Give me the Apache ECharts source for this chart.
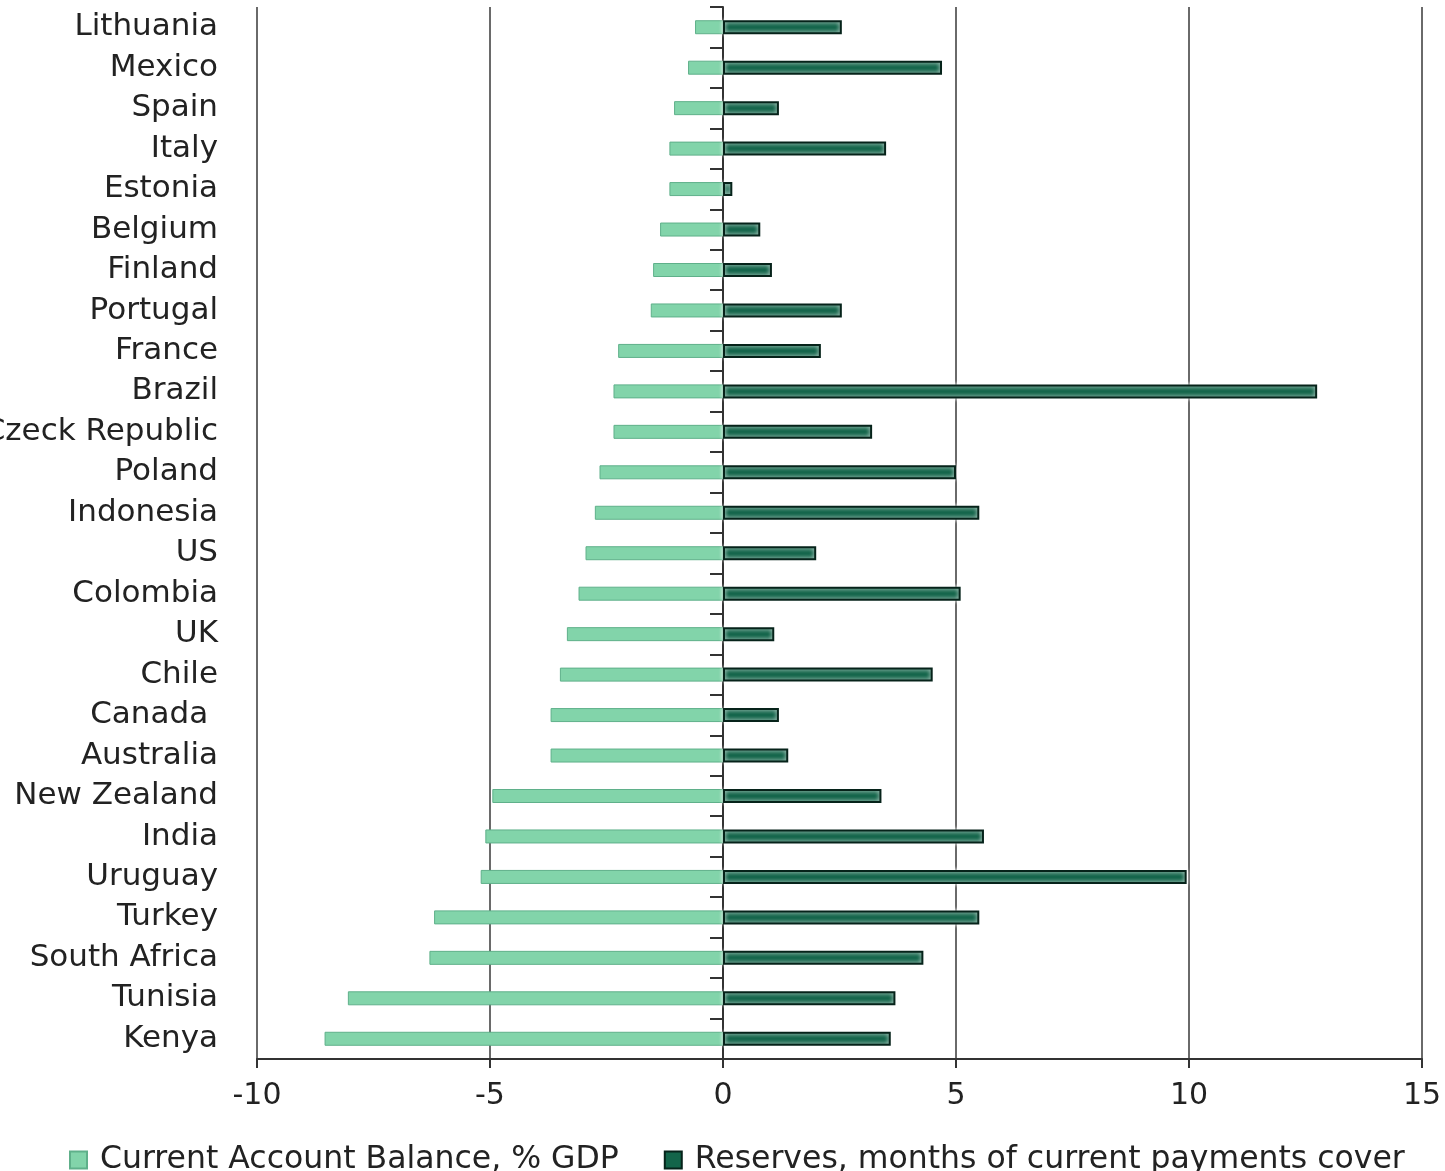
<!DOCTYPE html>
<html>
<head>
<meta charset="utf-8">
<script src="https://cdn.jsdelivr.net/npm/echarts@6/dist/echarts.min.js"></script>
<style>
html,body{margin:0;padding:0;background:#fff;}
#chart{width:1445px;height:1171px;}
</style>
</head>
<body>
<div id="chart"></div>
<script>
const categories = ['Lithuania','Mexico','Spain','Italy','Estonia','Belgium','Finland','Portugal','France','Brazil','Czeck Republic','Poland','Indonesia','US','Colombia','UK','Chile','Canada ','Australia','New Zealand','India','Uruguay','Turkey','South Africa','Tunisia','Kenya'];
const currentAccount = [-0.6,-0.75,-1.05,-1.15,-1.15,-1.35,-1.5,-1.55,-2.25,-2.35,-2.35,-2.65,-2.75,-2.95,-3.1,-3.35,-3.5,-3.7,-3.7,-4.95,-5.1,-5.2,-6.2,-6.3,-8.05,-8.55];
const reserves = [2.55,4.7,1.2,3.5,0.2,0.8,1.05,2.55,2.1,12.75,3.2,5.0,5.5,2.0,5.1,1.1,4.5,1.2,1.4,3.4,5.6,9.95,5.5,4.3,3.7,3.6];
const xTicks = {min:-10, max:15, interval:5};
const seriesNames = ['Current Account Balance, % GDP','Reserves, months of current payments cover'];

const FONT = 'DejaVu Sans';
const chart = echarts.init(document.getElementById('chart'));
chart.setOption({
  backgroundColor:'#ffffff',
  animation:false,
  textStyle:{fontFamily:FONT},
  grid:{left:257,right:23,top:7,bottom:112,containLabel:false,outerBoundsMode:'none'},
  legend:{
    left:64, top:1139,
    icon:'rect',
    itemWidth:17, itemHeight:17, itemGap:45,
    textStyle:{fontFamily:FONT,fontSize:31.5,color:'#222',padding:[0,0,0,8]},
    data:seriesNames
  },
  xAxis:{
    type:'value', min:xTicks.min, max:xTicks.max, interval:xTicks.interval,
    axisLine:{show:true,lineStyle:{color:'#333',width:2}},
    axisTick:{show:true,length:9,lineStyle:{color:'#333',width:2}},
    axisLabel:{fontFamily:FONT,fontSize:30,color:'#222',margin:22},
    splitLine:{show:true,lineStyle:{color:'#6a6a6a',width:2}}
  },
  yAxis:[{
    type:'category', data:categories, inverse:true, position:'left',
    axisLine:{show:false,onZero:false},
    axisTick:{show:false},
    axisLabel:{fontFamily:FONT,fontSize:31,color:'#222',margin:39},
    splitLine:{show:false}
  },{
    type:'category', data:categories, inverse:true, position:'left',
    axisLine:{show:true,onZero:true,lineStyle:{color:'#333',width:2}},
    axisTick:{show:true,length:13,lineStyle:{color:'#333',width:2}},
    axisLabel:{show:false},
    splitLine:{show:false}
  }],
  series:[{
    name:seriesNames[0], type:'bar', yAxisIndex:0,
    data:currentAccount, barWidth:14, barGap:'-100%',
    itemStyle:{color:'#82d4aa',borderColor:'#5fb08a',borderWidth:1},
    z:3
  },{
    name:seriesNames[1], type:'bar', yAxisIndex:0,
    data:reserves, barWidth:14, barGap:'-100%',
    itemStyle:{color:'#13654a',borderColor:'#06231a',borderWidth:2,shadowColor:'#ffffff',shadowBlur:4},
    z:3
  }]
});
</script>
</body>
</html>
